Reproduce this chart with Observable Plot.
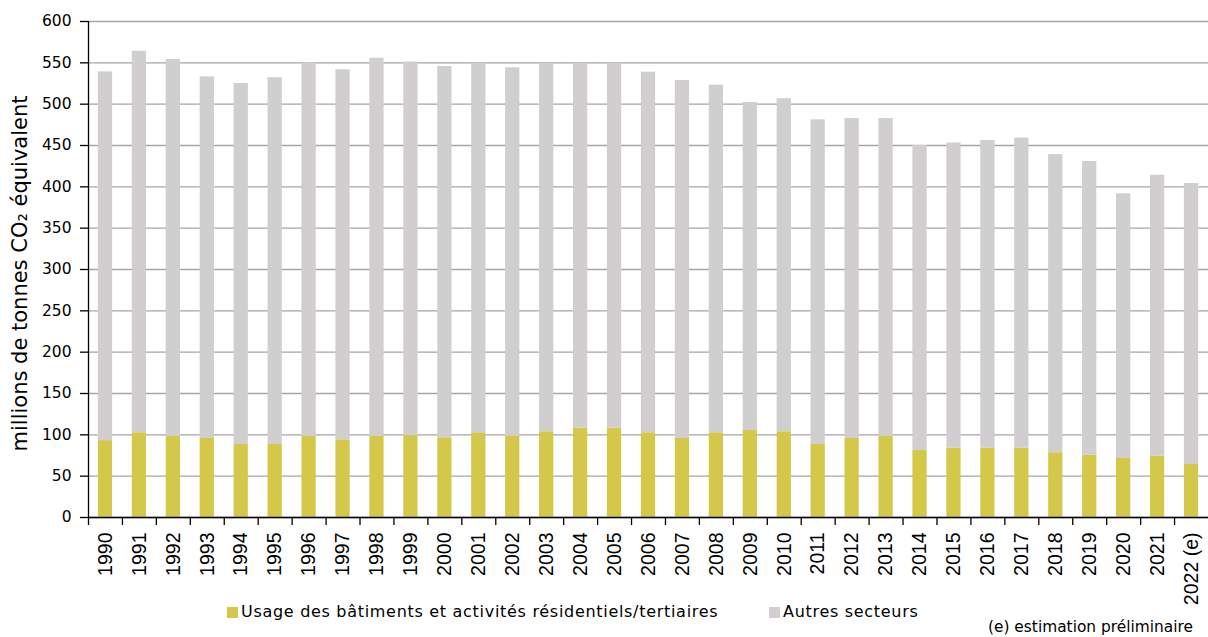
<!DOCTYPE html>
<html>
<head>
<meta charset="utf-8">
<script src="https://cdn.jsdelivr.net/npm/d3@7"></script>
<script src="https://cdn.jsdelivr.net/npm/@observablehq/plot@0.6"></script>
<style>
  html, body { margin: 0; padding: 0; background: #fff; }
  #wrap { position: relative; width: 1208px; height: 637px; overflow: hidden; font-family: "DejaVu Sans", sans-serif; color: #000; }
  #chart { position: absolute; left: 0; top: 0; }
  .leg { position: absolute; font-size: 16px; letter-spacing: 0.7px; white-space: nowrap; line-height: 1; }
  .sw { position: absolute; width: 11px; height: 11px; }
  #note { position: absolute; font-size: 15.4px; white-space: nowrap; line-height: 1; }
</style>
</head>
<body>
<div id="wrap">
  <div id="chart"></div>
</div>
<script>
const years = ["1990","1991","1992","1993","1994","1995","1996","1997","1998","1999",
  "2000","2001","2002","2003","2004","2005","2006","2007","2008","2009",
  "2010","2011","2012","2013","2014","2015","2016","2017","2018","2019",
  "2020","2021","2022 (e)"];
const batiments = [93, 102.5, 98, 95.6, 88.3, 88.3, 98, 94, 98, 99.2,
  96.4, 102.5, 98, 103.7, 108, 108, 102.5, 95.6, 102.5, 105.2,
  103.7, 88.3, 95.6, 98, 81, 84, 84, 84, 78.3, 75.5,
  71.4, 74.3, 64.1];
const autres = [446, 461.5, 456, 437.4, 436.7, 443.7, 452, 447.6, 457.6, 451.8,
  449.2, 447.1, 446, 445.3, 441.6, 441.6, 436.2, 433, 420.5, 396.8,
  402.8, 392.7, 387, 384.6, 369, 369, 372, 375, 360.7, 355.1,
  320.2, 339.7, 339.9];
const seriesNames = ["Usage des bâtiments et activités résidentiels/tertiaires", "Autres secteurs"];
const seriesColors = ["#d4c84a", "#d0cece"];
const yTicks = [0, 50, 100, 150, 200, 250, 300, 350, 400, 450, 500, 550, 600];
const yLabel = "millions de tonnes CO₂ équivalent";
const note = "(e) estimation préliminaire";

const data = years.flatMap((yr, i) => [
  {year: yr, serie: seriesNames[0], value: batiments[i]},
  {year: yr, serie: seriesNames[1], value: autres[i]}
]);

const W = 1208, H = 605, mL = 88, mR = 0, mT = 21, mB = 88;
const step = (W - mL - mR) / years.length;

const chart = Plot.plot({
  width: W, height: H,
  marginLeft: mL, marginRight: mR, marginTop: mT, marginBottom: mB,
  style: {fontFamily: "'DejaVu Sans', sans-serif", color: "#000", background: "#fff", overflow: "visible"},
  x: {domain: years, paddingInner: 0.58, paddingOuter: 0.29, label: null},
  y: {domain: [0, 600], label: null},
  color: {domain: seriesNames, range: seriesColors},
  marks: [
    Plot.gridY(yTicks, {stroke: "#a6a6a6", strokeOpacity: 1, strokeWidth: 1.3}),
    Plot.barY(data, {x: "year", y: "value", fill: "serie", order: seriesNames}),
    Plot.ruleY([0], {stroke: "#000", strokeWidth: 1.3}),
    Plot.ruleX([years[0]], {y1: 0, y2: 600, dx: -step / 2, stroke: "#000", strokeWidth: 1.3}),
    Plot.ruleX(years, {y1: 0, y2: -9.7, dx: -step / 2, stroke: "#000", strokeWidth: 1.3}),
    Plot.axisY(yTicks, {tickSize: 8, tickPadding: 9, fontSize: 15.5, label: null, stroke: "#000", strokeWidth: 1.3, tickFormat: d => String(d)}),
    Plot.axisX({tickSize: 0, tickRotate: -90, tickPadding: 15, fontSize: 19.5, fontFamily: "'Liberation Sans', Arial, sans-serif", label: null}),
    Plot.text([yLabel], {frameAnchor: "left", textAnchor: "middle", dx: -68, dy: 4, rotate: -90, fontSize: 21, text: d => d})
  ]
});
document.getElementById("chart").appendChild(chart);

const wrap = document.getElementById("wrap");
const legendPos = [{sx: 227, tx: 241}, {sx: 769, tx: 783}];
seriesNames.forEach((name, i) => {
  const sw = document.createElement("div");
  sw.className = "sw";
  sw.style.left = legendPos[i].sx + "px";
  sw.style.top = "607px";
  sw.style.background = seriesColors[i];
  wrap.appendChild(sw);
  const t = document.createElement("div");
  t.className = "leg";
  t.style.left = legendPos[i].tx + "px";
  t.style.top = "604px";
  t.textContent = name;
  wrap.appendChild(t);
});
const n = document.createElement("div");
n.id = "note";
n.style.left = "988px";
n.style.top = "620px";
n.textContent = note;
wrap.appendChild(n);
</script>
</body>
</html>
